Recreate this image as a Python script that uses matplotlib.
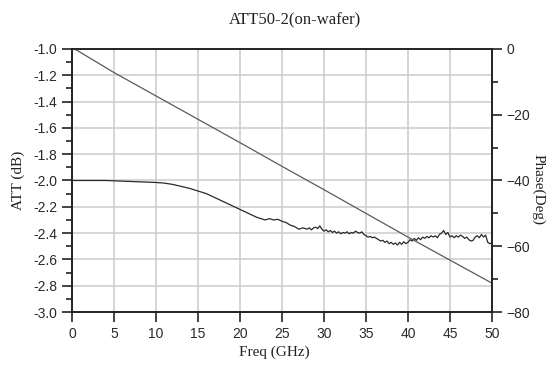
import numpy as np
import matplotlib
matplotlib.use('Agg')
import matplotlib.pyplot as plt
from matplotlib.ticker import MultipleLocator

# 데이터
freq_att = [0, 2, 4, 6, 8, 10, 11, 12, 13, 14, 15, 16, 17, 18, 19, 20, 21, 22,
            22.5, 23, 23.5, 24, 24.5, 25, 25.5, 26, 26.5, 27, 27.5,
            28.00, 28.25, 28.50, 28.75, 29.00, 29.25, 29.50, 29.75,
            30.00, 30.25, 30.50, 30.75, 31.00, 31.25, 31.50, 31.75,
            32.00, 32.25, 32.50, 32.75, 33.00, 33.25, 33.50, 33.75,
            34.00, 34.25, 34.50, 34.75, 35.00, 35.25, 35.50, 35.75,
            36.00, 36.25, 36.50, 36.75, 37.00, 37.25, 37.50, 37.75,
            38.00, 38.25, 38.50, 38.75, 39.00, 39.25, 39.50, 39.75,
            40.00, 40.25, 40.50, 40.75, 41.00, 41.25, 41.50, 41.75,
            42.00, 42.25, 42.50, 42.75, 43.00, 43.25, 43.50, 43.75,
            44.00, 44.25, 44.50, 44.75, 45.00, 45.25, 45.50, 45.75,
            46.00, 46.25, 46.50, 46.75, 47.00, 47.25, 47.50, 47.75,
            48.00, 48.25, 48.50, 48.75, 49.00, 49.25, 49.50, 49.75, 50.00]
att = [-2.00, -2.00, -2.00, -2.005, -2.01, -2.015, -2.02, -2.03, -2.045, -2.06,
       -2.08, -2.10, -2.13, -2.16, -2.19, -2.22, -2.25, -2.28,
       -2.29, -2.30, -2.29, -2.30, -2.295, -2.31, -2.32, -2.34, -2.35, -2.37, -2.36,
       -2.37, -2.36, -2.375, -2.36, -2.355, -2.365, -2.345, -2.37,
       -2.385, -2.375, -2.39, -2.38, -2.395, -2.385, -2.40, -2.39,
       -2.405, -2.395, -2.40, -2.39, -2.405, -2.395, -2.40, -2.385,
       -2.395, -2.40, -2.39, -2.41, -2.42, -2.43, -2.425, -2.435,
       -2.43, -2.44, -2.45, -2.46, -2.455, -2.47, -2.46, -2.48,
       -2.47, -2.485, -2.475, -2.49, -2.47, -2.485, -2.465, -2.48,
       -2.47, -2.45, -2.46, -2.44, -2.455, -2.435, -2.45, -2.43,
       -2.44, -2.425, -2.435, -2.42, -2.43, -2.42, -2.435, -2.41,
       -2.40, -2.38, -2.41, -2.395, -2.43, -2.42, -2.435, -2.42,
       -2.43, -2.415, -2.425, -2.44, -2.43, -2.45, -2.46, -2.455,
       -2.43, -2.42, -2.435, -2.41, -2.43, -2.415, -2.47, -2.48, -2.475]

freq_phase = [0, 0.5, 5, 10, 15, 20, 25, 30, 35, 40, 45, 50]
phase = [0, -0.3, -7.2, -14.3, -21.4, -28.5, -35.7, -42.8, -50.0, -57.2, -64.2, -71.2]

tick_font = 'Liberation Sans'
label_font = 'Liberation Serif'

fig = plt.figure(figsize=(5.46, 3.65), dpi=100)
ax = fig.add_axes([0.132, 0.145, 0.769, 0.721])
ax2 = ax.twinx()

# 격자
ax.set_axisbelow(True)
ax.grid(True, which='major', color='#cccccc', linewidth=1.1)

ax.plot(freq_att, att, color='#2a2a2a', linewidth=0.9)
ax2.plot(freq_phase, phase, color='#5a5a5a', linewidth=0.9)

ax.set_xlim(0, 50)
ax.set_ylim(-3.0, -1.0)
ax2.set_ylim(-80, 0)

ax.xaxis.set_major_locator(MultipleLocator(5))
ax.yaxis.set_major_locator(MultipleLocator(0.2))
ax.yaxis.set_minor_locator(MultipleLocator(0.1))
ax2.yaxis.set_major_locator(MultipleLocator(20))
ax2.yaxis.set_minor_locator(MultipleLocator(10))
ax.yaxis.set_major_formatter(plt.FormatStrFormatter('%.1f'))

ax.tick_params(axis='both', which='major', direction='out', length=7, width=1.2,
               labelsize=10, color='#222222', labelcolor='#2a2a2a')
ax.tick_params(axis='y', which='minor', direction='out', length=4, width=1.2, color='#222222')
ax2.tick_params(axis='y', which='major', direction='out', length=7, width=1.2,
                labelsize=10, color='#222222', labelcolor='#2a2a2a')
ax2.tick_params(axis='y', which='minor', direction='out', length=4, width=1.2, color='#222222')

for lab in ax.get_xticklabels() + ax.get_yticklabels() + ax2.get_yticklabels():
    lab.set_fontfamily(tick_font)

for a in (ax, ax2):
    for s in a.spines.values():
        s.set_color('#222222')
        s.set_linewidth(1.2)

# 텍스트
fig.text(0.54, 0.945, 'ATT50-2(on-wafer)', ha='center', va='center',
         fontsize=12, family=label_font, color='#222222')
fig.text(0.502, 0.035, 'Freq (GHz)', ha='center', va='center',
         fontsize=11, family=label_font, color='#222222')
fig.text(0.033, 0.505, 'ATT (dB)', ha='center', va='center', rotation=90,
         fontsize=11, family=label_font, color='#222222')
fig.text(0.985, 0.48, 'Phase(Deg)', ha='center', va='center', rotation=270,
         fontsize=11, family=label_font, color='#222222')

fig.savefig('out.png', dpi=100)
